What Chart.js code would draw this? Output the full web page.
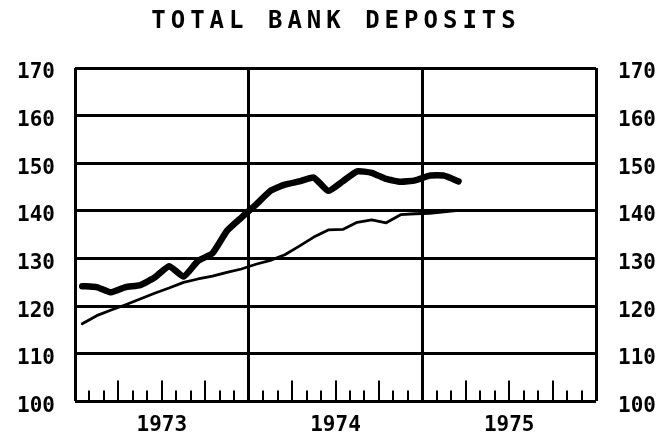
<!DOCTYPE html>
<html>
<head>
<meta charset="utf-8">
<title>Total Bank Deposits</title>
<script src="https://cdn.jsdelivr.net/npm/chart.js@4.4.1/dist/chart.umd.min.js"></script>
<style>
  html, body { margin: 0; padding: 0; background: #fff; }
  #chart-wrap { width: 660px; height: 436px; }
</style>
</head>
<body>
<div id="chart-wrap"><canvas id="deposits-chart" width="660" height="436"></canvas></div>
<script>
// Monthly series, Jan 1973 - Mar 1975
const months = [
  'Jan 73', 'Feb 73', 'Mar 73', 'Apr 73', 'May 73', 'Jun 73', 'Jul 73', 'Aug 73', 'Sep 73', 'Oct 73', 'Nov 73', 'Dec 73',
  'Jan 74', 'Feb 74', 'Mar 74', 'Apr 74', 'May 74', 'Jun 74', 'Jul 74', 'Aug 74', 'Sep 74', 'Oct 74', 'Nov 74', 'Dec 74',
  'Jan 75', 'Feb 75', 'Mar 75'
];
const totalDeposits = [
  124.2, 124.0, 122.9, 124.0, 124.4, 126.0, 128.4, 126.2, 129.5, 131.1, 135.8, 138.6,
  141.3, 144.2, 145.5, 146.2, 147.0, 144.2, 146.2, 148.3, 148.0, 146.7, 146.1, 146.4,
  147.4, 147.4, 146.2
];
const depositsTrend = [
  116.3, 118.0, 119.2, 120.3, 121.5, 122.7, 123.8, 125.0, 125.7, 126.3, 127.1, 127.8,
  128.8, 129.6, 130.8, 132.6, 134.5, 136.0, 136.1, 137.6, 138.1, 137.5, 139.2, 139.4,
  139.5, 139.8, 140.1
];
const yearLabels = ['1973', '1974', '1975'];
const Y_MIN = 100;
const Y_MAX = 170;
const Y_STEP = 10;
const TITLE = 'TOTAL BANK DEPOSITS';

const FONT = '"DejaVu Sans Mono", "Liberation Mono", monospace';

// x axis runs in months from Jan 1973; each value sits mid-month
const toPoints = arr => arr.map((v, i) => ({ x: i + 0.5, y: v }));

// Spaced-out lettering for the heading
const titlePlugin = {
  id: 'letteredTitle',
  afterDraw(chart) {
    const ctx = chart.ctx;
    ctx.save();
    ctx.font = 'bold 24px ' + FONT;
    ctx.letterSpacing = '5px';
    ctx.fillStyle = '#000';
    ctx.textAlign = 'center';
    ctx.textBaseline = 'middle';
    ctx.fillText(TITLE, 336, 22);
    ctx.restore();
  }
};

// Month tick marks standing up from the bottom edge, longer at quarters
const monthTicks = {
  id: 'monthTicks',
  beforeDatasetsDraw(chart) {
    const { ctx, chartArea, scales } = chart;
    const xs = scales.x;
    ctx.save();
    ctx.strokeStyle = '#000';
    ctx.lineWidth = 2;
    for (let m = xs.min + 1; m < xs.max; m++) {
      if (m % 12 === 0) continue;
      const len = m % 3 === 0 ? 21 : 11;
      const px = Math.round(xs.getPixelForValue(m));
      ctx.beginPath();
      ctx.moveTo(px, chartArea.bottom);
      ctx.lineTo(px, chartArea.bottom - len);
      ctx.stroke();
    }
    ctx.restore();
  }
};

const tickFont = { family: FONT, size: 21, weight: 'bold' };

new Chart(document.getElementById('deposits-chart'), {
  type: 'line',
  data: {
    datasets: [
      {
        label: 'Total deposits',
        data: toPoints(totalDeposits),
        borderColor: '#000',
        borderWidth: 6.5,
        pointRadius: 0,
        tension: 0.15,
        borderCapStyle: 'round',
        borderJoinStyle: 'round'
      },
      {
        label: 'Trend',
        data: toPoints(depositsTrend),
        borderColor: '#000',
        borderWidth: 2.8,
        pointRadius: 0,
        tension: 0,
        borderCapStyle: 'round',
        borderJoinStyle: 'round'
      }
    ]
  },
  options: {
    responsive: false,
    animation: false,
    devicePixelRatio: 1,
    layout: { padding: { top: 68, left: 0, right: 0, bottom: 0 } },
    plugins: {
      legend: { display: false },
      title: { display: false },
      tooltip: { enabled: false }
    },
    scales: {
      x: {
        type: 'linear',
        min: 0,
        max: yearLabels.length * 12,
        afterFit: s => { s.height = 33; },
        ticks: {
          stepSize: 6,
          autoSkip: false,
          maxRotation: 0,
          padding: 12,
          color: '#000',
          font: tickFont,
          callback: v => (v % 12 === 6 ? yearLabels[(v - 6) / 12] : '')
        },
        grid: {
          drawTicks: false,
          lineWidth: 3,
          color: c => (c.tick && c.tick.value % 12 === 0 ? '#000' : 'rgba(0,0,0,0)')
        },
        border: { display: false }
      },
      y: {
        position: 'left',
        min: Y_MIN,
        max: Y_MAX,
        afterFit: s => { s.width = 75; },
        ticks: { stepSize: Y_STEP, padding: 20, labelOffset: 5, color: '#000', font: tickFont },
        grid: { drawTicks: false, lineWidth: 3, color: '#000' },
        border: { display: false }
      },
      y2: {
        position: 'right',
        min: Y_MIN,
        max: Y_MAX,
        afterFit: s => { s.width = 64; },
        ticks: { stepSize: Y_STEP, padding: 22, labelOffset: 5, color: '#000', font: tickFont },
        grid: { drawTicks: false, drawOnChartArea: false },
        border: { display: false }
      }
    }
  },
  plugins: [monthTicks, titlePlugin]
});
</script>
</body>
</html>
